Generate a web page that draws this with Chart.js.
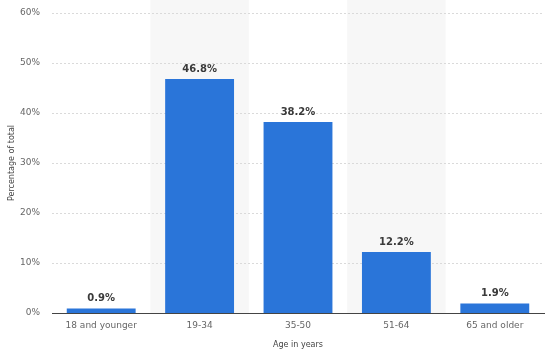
<!DOCTYPE html>
<html>
<head>
<meta charset="utf-8">
<script src="https://cdn.jsdelivr.net/npm/chart.js@4"></script>
<style>
  html, body { margin: 0; padding: 0; background: #fff; }
  #wrap { width: 554px; height: 354px; }
</style>
</head>
<body>
<div id="wrap"><canvas id="chart" width="554" height="354"></canvas></div>
<script>
const categories = ['18 and younger', '19-34', '35-50', '51-64', '65 and older'];
const shares = [0.9, 46.8, 38.2, 12.2, 1.9];
const yTicks = [0, 10, 20, 30, 40, 50, 60];
const shadedCategories = [1, 3];

// light vertical bands behind every second category
const bandPlugin = {
  id: 'bands',
  beforeDatasetsDraw(chart) {
    const { ctx, chartArea, scales } = chart;
    const x = scales.x;
    const half = (x.getPixelForValue(1) - x.getPixelForValue(0)) / 2;
    ctx.save();
    ctx.fillStyle = '#f7f7f7';
    shadedCategories.forEach(i => {
      const c = x.getPixelForValue(i);
      ctx.fillRect(c - half, 0, half * 2, chartArea.bottom);
    });
    ctx.restore();
  }
};

// dotted grid drawn over the bands
const gridPlugin = {
  id: 'gridOver',
  beforeDatasetsDraw(chart) {
    const { ctx, chartArea, scales } = chart;
    ctx.save();
    ctx.strokeStyle = '#dadada';
    ctx.lineWidth = 1;
    ctx.setLineDash([2, 2]);
    yTicks.slice(1).forEach(v => {
      const y = Math.round(scales.y.getPixelForValue(v)) + 0.5;
      ctx.beginPath();
      ctx.moveTo(chartArea.left, y);
      ctx.lineTo(chartArea.right, y);
      ctx.stroke();
    });
    ctx.restore();
  }
};

const labelPlugin = {
  id: 'valueLabels',
  afterDatasetsDraw(chart) {
    const { ctx } = chart;
    const meta = chart.getDatasetMeta(0);
    ctx.save();
    ctx.font = 'bold 10px "DejaVu Sans"';
    ctx.fillStyle = '#3a3a3a';
    ctx.textAlign = 'center';
    ctx.textBaseline = 'bottom';
    meta.data.forEach((bar, i) => {
      ctx.fillText(shares[i].toFixed(1) + '%', bar.x, bar.y - 5);
    });
    ctx.restore();
  }
};

new Chart(document.getElementById('chart'), {
  type: 'bar',
  data: {
    labels: categories,
    datasets: [{
      data: shares,
      backgroundColor: '#2a75d9',
      categoryPercentage: 1,
      barPercentage: 0.7
    }]
  },
  options: {
    responsive: false,
    animation: false,
    layout: { padding: { top: 13, right: 10, left: 0, bottom: 0 } },
    plugins: {
      legend: { display: false },
      tooltip: { enabled: false }
    },
    scales: {
      x: {
        grid: { display: false, drawTicks: false },
        border: { display: true, color: '#444', width: 1 },
        ticks: { color: '#666', font: { family: 'DejaVu Sans', size: 9 }, padding: 7, maxRotation: 0 },
        title: { display: true, text: 'Age in years', color: '#444', font: { family: 'DejaVu Sans', size: 8 }, padding: { top: 8 } },
        afterFit(scale) { scale.height = 41; scale.paddingLeft = 0; scale.paddingRight = 0; }
      },
      y: {
        min: 0,
        max: 60,
        afterBuildTicks(scale) { scale.ticks = yTicks.map(v => ({ value: v })); },
        grid: { display: false, drawTicks: false },
        border: { display: false },
        ticks: { color: '#666', font: { family: 'DejaVu Sans', size: 9 }, padding: 12, callback: v => v + '%' },
        title: { display: true, text: 'Percentage of total', color: '#444', font: { family: 'DejaVu Sans', size: 8 }, padding: { top: 7, bottom: 0 } },
        afterFit(scale) { scale.width = 52; scale.paddingTop = 0; scale.paddingBottom = 0; }
      }
    }
  },
  plugins: [bandPlugin, gridPlugin, labelPlugin]
});
</script>
</body>
</html>
